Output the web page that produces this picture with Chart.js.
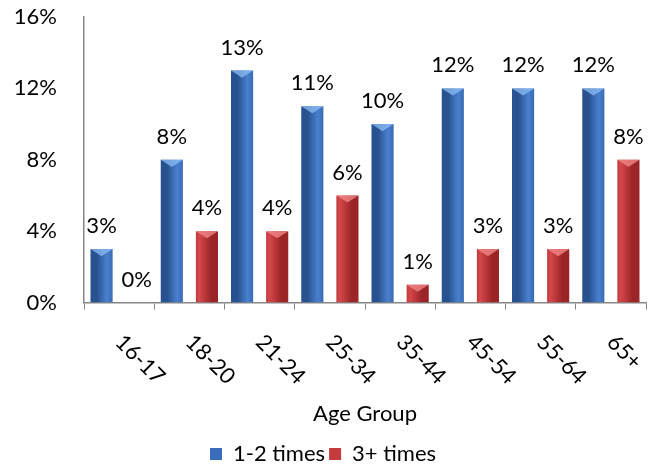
<!DOCTYPE html>
<html><head><meta charset="utf-8">
<script src="https://cdn.jsdelivr.net/npm/chart.js@4/dist/chart.umd.min.js"></script>
<style>html,body{margin:0;padding:0;background:#fff}#wrap{width:650px;height:467px;position:relative}</style>
</head><body><div id="wrap"><canvas id="c"></canvas></div>
<script>
const categories = ['16-17', '18-20', '21-24', '25-34', '35-44', '45-54', '55-64', '65+'];
const seriesNames = ['1-2 times', '3+ times'];
const series12 = [3, 8, 13, 11, 10, 12, 12, 12];
const series3p = [0, 4, 4, 6, 1, 3, 3, 8];
const yMin = 0, yMax = 16, yStep = 4;
const xTitle = 'Age Group';

const FONT = 'Lato, "Open Sans", sans-serif';
const FS = 22;
const BAR_PCT = 0.63;
const palette = [
  {edge: '#27528f', mid: '#4a80cf', solid: '#3a6dbb', light: 'rgba(140,190,245,0.75)'},
  {edge: '#9a2426', mid: '#d4474a', solid: '#c43a3d', light: 'rgba(245,140,140,0.75)'}
];

function barGradient(c) {
  const chart = c.chart, xs = chart.scales.x;
  const pal = palette[c.datasetIndex];
  if (!xs || !chart.chartArea || c.dataIndex === undefined) return pal.solid;
  const catW = xs.width / categories.length;
  const bw = catW * BAR_PCT / 2;
  const cx = xs.getPixelForValue(c.dataIndex);
  const left = c.datasetIndex === 0 ? cx - bw : cx;
  const g = chart.ctx.createLinearGradient(left, 0, left + bw, 0);
  g.addColorStop(0, pal.edge);
  g.addColorStop(0.45, pal.mid);
  g.addColorStop(1, pal.edge);
  return g;
}

const labelPlugin = {
  id: 'valueLabels',
  afterDatasetsDraw(chart) {
    const ctx = chart.ctx;
    ctx.save();
    // top bevel highlight
    chart.data.datasets.forEach((ds, di) => {
      const meta = chart.getDatasetMeta(di);
      meta.data.forEach((bar, i) => {
        if (!ds.data[i]) return;
        const l = bar.x - bar.width / 2, r = bar.x + bar.width / 2;
        ctx.fillStyle = palette[di].light;
        ctx.beginPath();
        ctx.moveTo(l, bar.y);
        ctx.lineTo(r, bar.y);
        ctx.lineTo(bar.x, bar.y + bar.width * 0.32);
        ctx.closePath();
        ctx.fill();
      });
    });
    ctx.font = FS + 'px ' + FONT;
    ctx.fillStyle = '#000';
    ctx.textAlign = 'center';
    ctx.textBaseline = 'alphabetic';
    chart.data.datasets.forEach((ds, di) => {
      const meta = chart.getDatasetMeta(di);
      meta.data.forEach((bar, i) => {
        ctx.fillText(ds.data[i] + '%', bar.x, bar.y - 16);
      });
    });
    // rotated category labels
    const xs = chart.scales.x;
    ctx.textAlign = 'left';
    ctx.textBaseline = 'middle';
    categories.forEach((lab, i) => {
      const x = xs.getPixelForValue(i);
      ctx.save();
      ctx.translate(x, xs.top + 36);
      ctx.rotate(Math.PI / 4);
      ctx.fillText(lab, 0, 0);
      ctx.restore();
    });
    ctx.restore();
  }
};

new Chart(document.getElementById('c'), {
  type: 'bar',
  data: {
    labels: categories,
    datasets: [
      {label: seriesNames[0], data: series12, backgroundColor: barGradient, borderWidth: 0},
      {label: seriesNames[1], data: series3p, backgroundColor: barGradient, borderWidth: 0}
    ]
  },
  options: {
    responsive: true,
    maintainAspectRatio: false,
    animation: false,
    datasets: {bar: {categoryPercentage: 1, barPercentage: BAR_PCT}},
    layout: {padding: {top: 17, right: 4, left: 0, bottom: -8}},
    scales: {
      x: {
        grid: {display: true, drawOnChartArea: false, drawTicks: true, tickLength: 7, color: '#868686', offset: true},
        border: {display: true, color: '#868686', width: 1.5},
        ticks: {display: false},
        afterFit: (s) => { s.paddingLeft = 0; s.paddingRight = 0; },
        title: {display: true, text: xTitle, color: '#000', font: {size: FS, family: FONT}, padding: {top: 91, bottom: 12}}
      },
      y: {
        min: yMin, max: yMax,
        afterFit: (s) => { s.width = 84; s.paddingTop = 0; s.paddingBottom = 0; },
        grid: {display: false, drawTicks: false},
        border: {display: true, color: '#868686', width: 1.5},
        ticks: {stepSize: yStep, color: '#000', font: {size: FS, family: FONT}, padding: 27, callback: v => v + '%'}
      }
    },
    plugins: {
      legend: {
        position: 'bottom',
        labels: {
          color: '#000', font: {size: FS, family: FONT}, boxWidth: 12, boxHeight: 12, padding: 4,
          generateLabels: (chart) => chart.data.datasets.map((ds, i) => ({
            text: ds.label, fillStyle: palette[i].solid, strokeStyle: palette[i].solid, lineWidth: 0, datasetIndex: i, hidden: false
          }))
        }
      },
      tooltip: {enabled: false}
    }
  },
  plugins: [labelPlugin]
});
</script></body></html>
